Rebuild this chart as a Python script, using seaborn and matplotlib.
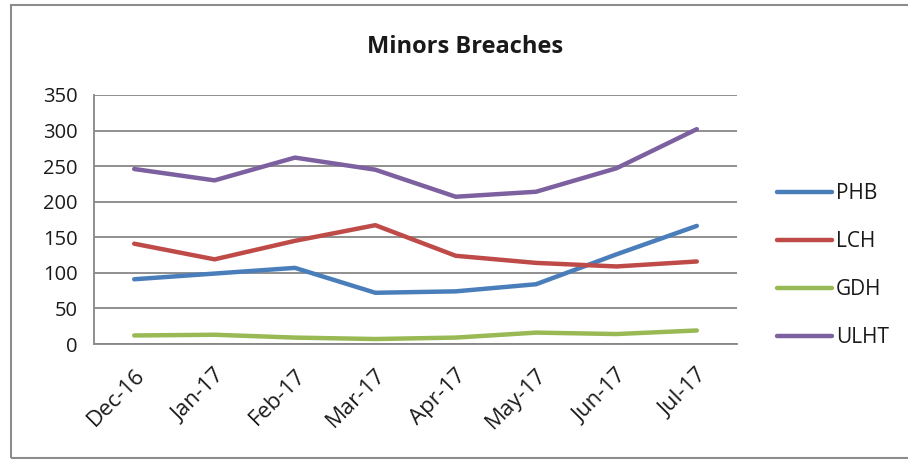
import matplotlib
matplotlib.use("Agg")
import matplotlib.pyplot as plt
from matplotlib.patches import Rectangle
from matplotlib.ticker import FixedLocator
import seaborn as sns
import pandas as pd

months = ["Dec-16", "Jan-17", "Feb-17", "Mar-17", "Apr-17", "May-17", "Jun-17", "Jul-17"]
phb = [91, 99, 107, 72, 74, 84, 126, 166]
lch = [141, 119, 145, 167, 124, 114, 109, 116]
gdh = [12, 13, 9, 7, 9, 16, 14, 19]
ulht = [246, 230, 262, 245, 207, 214, 247, 302]
series_names = ["PHB", "LCH", "GDH", "ULHT"]
colors = ["#4A7EBB", "#BE4B48", "#98B954", "#7D60A0"]

rows = []
for name, vals in zip(series_names, [phb, lch, gdh, ulht]):
    for i, v in enumerate(vals):
        rows.append({"pos": i, "month": months[i], "trust": name, "value": v})
df = pd.DataFrame(rows)

sns.set_style("white")
plt.rcParams["font.family"] = ["Open Sans", "DejaVu Sans"]

fig = plt.figure(figsize=(9.08, 4.59), dpi=100)
ax = fig.add_axes([94 / 908, 1 - 344 / 459, (737 - 94) / 908, (344 - 95) / 459])

sns.lineplot(data=df, x="pos", y="value", hue="trust", hue_order=series_names,
             palette=colors, linewidth=3.2, ax=ax, legend=True,
             solid_capstyle="round")

grid_color = "#878787"
text_color = "#1a1a1a"
ax.set_xlim(-0.5, len(months) - 0.5)
ax.set_ylim(0, 350)
ax.set_yticks(range(0, 351, 50))
ax.yaxis.grid(True, color=grid_color, linewidth=1.3)
ax.xaxis.grid(False)
ax.set_axisbelow(True)

ax.set_xticks(range(len(months)))
ax.set_xticklabels(months, rotation=45, ha="right", va="top", rotation_mode="anchor")
ax.xaxis.set_minor_locator(FixedLocator([i - 0.5 for i in range(len(months) + 1)]))
ax.tick_params(axis="x", which="major", length=0, pad=15, labelsize=16, colors=text_color)
ax.tick_params(axis="x", which="minor", length=6, width=1.3, color=grid_color)
ax.tick_params(axis="y", length=7, width=1.3, color=grid_color, pad=5, labelsize=14.5,
               labelcolor=text_color)

for side in ["top", "right"]:
    ax.spines[side].set_visible(False)
for side in ["left", "bottom"]:
    ax.spines[side].set_color(grid_color)
    ax.spines[side].set_linewidth(1.3)

ax.set_xlabel("")
ax.set_ylabel("")
fig.text(465 / 908, 1 - 53 / 459, "Minors Breaches", fontsize=17, fontweight="bold",
         ha="center", va="baseline", color=text_color)

handles, labels = ax.get_legend_handles_labels()
if ax.get_legend() is not None:
    ax.get_legend().remove()
leg = fig.legend(handles, labels, loc="center left",
                 bbox_to_anchor=(777 / 908, 1 - 265.5 / 459),
                 bbox_transform=fig.transFigure, frameon=False, fontsize=15,
                 handlelength=2.64, handletextpad=0.2, labelspacing=1.29,
                 borderpad=0, borderaxespad=0)
for line in leg.get_lines():
    line.set_linewidth(3.2)
for t in leg.get_texts():
    t.set_color(text_color)

fig.patches.append(Rectangle((11 / 908, 1 - 458 / 459), 1.2, (458 - 5) / 459,
                             transform=fig.transFigure, fill=False,
                             edgecolor="#8c8c8c", linewidth=1.5))

fig.savefig("out.png", dpi=100, facecolor="white")
